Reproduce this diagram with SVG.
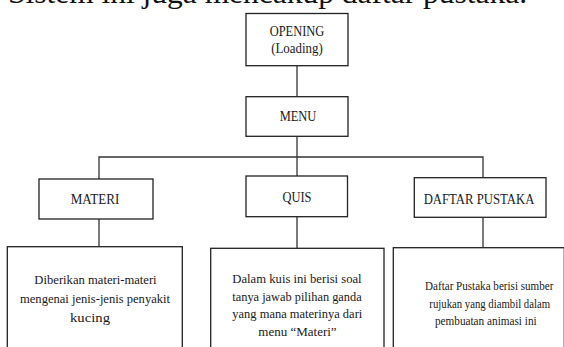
<svg xmlns="http://www.w3.org/2000/svg" width="564" height="347" viewBox="0 0 564 347">
  <style>
    .box { fill: #ffffff; stroke: #222222; stroke-width: 1.3; }
    .conn { fill: none; stroke: #333333; stroke-width: 1.3; }
    .lbl { font-family: "Liberation Serif", "Times New Roman", serif; font-size: 14.5px; fill: #1a1a1a; text-anchor: middle; }
    .body { font-family: "Liberation Serif", "Times New Roman", serif; font-size: 13.5px; fill: #1a1a1a; text-anchor: middle; }
    .head { font-family: "Liberation Serif", "Times New Roman", serif; font-size: 30px; fill: #111111; }
  </style>
  <rect width="564" height="347" fill="#ffffff"/>
  <text class="head" x="8" y="2.5" textLength="519" lengthAdjust="spacingAndGlyphs">Sistem ini juga mencakup daftar pustaka.</text>

  <g id="connectors">
    <line class="conn" x1="297" y1="65.7" x2="297" y2="96.7"/>
    <line class="conn" x1="297" y1="136.3" x2="297" y2="176"/>
    <polyline class="conn" points="99,179 99,157 483,157 483,177.7"/>
    <line class="conn" x1="99" y1="219" x2="99" y2="246.7"/>
    <line class="conn" x1="297" y1="216.7" x2="297" y2="248.3"/>
    <line class="conn" x1="483" y1="217.3" x2="483" y2="247.7"/>
  </g>

  <g id="opening">
    <rect class="box" x="246" y="13.5" width="102" height="52.2"/>
    <text class="lbl" x="297" y="35.5" textLength="54.7" lengthAdjust="spacingAndGlyphs">OPENING</text>
    <text class="lbl" x="297" y="53" textLength="51.7" lengthAdjust="spacingAndGlyphs">(Loading)</text>
  </g>
  <g id="menu">
    <rect class="box" x="246" y="96.7" width="102" height="39.6"/>
    <text class="lbl" x="298" y="121" textLength="36.7" lengthAdjust="spacingAndGlyphs">MENU</text>
  </g>
  <g id="materi">
    <rect class="box" x="39" y="179" width="114" height="40"/>
    <text class="lbl" x="95" y="204" textLength="48.7" lengthAdjust="spacingAndGlyphs">MATERI</text>
  </g>
  <g id="quis">
    <rect class="box" x="246" y="176" width="101.5" height="40.7"/>
    <text class="lbl" x="297" y="201.7" textLength="29" lengthAdjust="spacingAndGlyphs">QUIS</text>
  </g>
  <g id="daftar-pustaka">
    <rect class="box" x="414.3" y="177.7" width="131.7" height="39.6"/>
    <text class="lbl" x="479" y="204" textLength="110.7" lengthAdjust="spacingAndGlyphs">DAFTAR PUSTAKA</text>
  </g>

  <g id="desc-materi">
    <rect class="box" x="7.3" y="246.7" width="175" height="120"/>
    <text class="body" x="95.5" y="284.3" textLength="122.3" lengthAdjust="spacingAndGlyphs">Diberikan materi-materi</text>
    <text class="body" x="95" y="303.3" textLength="150" lengthAdjust="spacingAndGlyphs">mengenai jenis-jenis penyakit</text>
    <text class="body" x="90" y="322.3" textLength="40" lengthAdjust="spacingAndGlyphs">kucing</text>
  </g>
  <g id="desc-quis">
    <rect class="box" x="210.7" y="248.3" width="173.3" height="120"/>
    <text class="body" x="297" y="282.7" textLength="129.3" lengthAdjust="spacingAndGlyphs">Dalam kuis ini berisi soal</text>
    <text class="body" x="297" y="300.7" textLength="129.3" lengthAdjust="spacingAndGlyphs">tanya jawab pilihan ganda</text>
    <text class="body" x="297.3" y="318.3" textLength="130" lengthAdjust="spacingAndGlyphs">yang mana materinya dari</text>
    <text class="body" x="297.5" y="336" textLength="78.3" lengthAdjust="spacingAndGlyphs">menu “Materi”</text>
  </g>
  <g id="desc-daftar">
    <rect class="box" x="393.3" y="247.7" width="171" height="120"/>
    <text class="body" x="489.2" y="290" textLength="128.3" lengthAdjust="spacingAndGlyphs">Daftar Pustaka berisi sumber</text>
    <text class="body" x="489.7" y="307.7" textLength="120.7" lengthAdjust="spacingAndGlyphs">rujukan yang diambil dalam</text>
    <text class="body" x="485.8" y="325" textLength="101.7" lengthAdjust="spacingAndGlyphs">pembuatan animasi ini</text>
  </g>
</svg>
